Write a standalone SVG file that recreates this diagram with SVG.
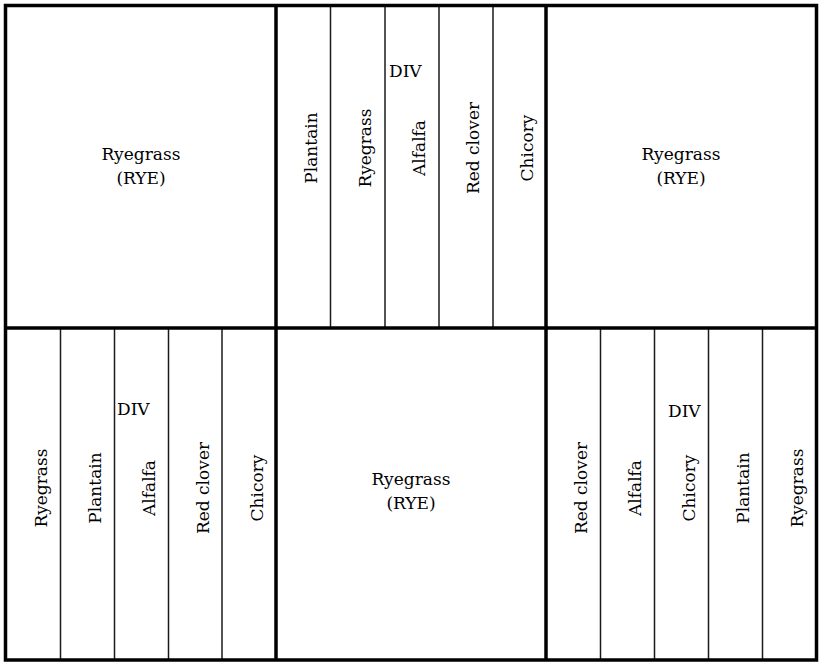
<svg xmlns="http://www.w3.org/2000/svg" width="829" height="670" viewBox="0 0 829 670">
<style>
.thick{stroke:#000;stroke-width:3.5;fill:none}
.thin{stroke:#1a1a1a;stroke-width:1.5;fill:none}
.m{text-anchor:middle}
</style>
<rect width="829" height="670" fill="#fff"/>
<g id="connectors">
<g id="thin-lines">
<line class="thin" x1="330.5" y1="6" x2="330.5" y2="328"/>
<line class="thin" x1="385" y1="6" x2="385" y2="328"/>
<line class="thin" x1="439" y1="6" x2="439" y2="328"/>
<line class="thin" x1="493" y1="6" x2="493" y2="328"/>
<line class="thin" x1="60.5" y1="328" x2="60.5" y2="660"/>
<line class="thin" x1="114.5" y1="328" x2="114.5" y2="660"/>
<line class="thin" x1="168.5" y1="328" x2="168.5" y2="660"/>
<line class="thin" x1="222" y1="328" x2="222" y2="660"/>
<line class="thin" x1="600.5" y1="328" x2="600.5" y2="660"/>
<line class="thin" x1="654.5" y1="328" x2="654.5" y2="660"/>
<line class="thin" x1="708.5" y1="328" x2="708.5" y2="660"/>
<line class="thin" x1="762.5" y1="328" x2="762.5" y2="660"/>
</g>
<g id="thick-lines">
<rect class="thick" x="5.5" y="5.5" width="811" height="654.5"/>
<line class="thick" x1="276" y1="5.5" x2="276" y2="660"/>
<line class="thick" x1="546" y1="5.5" x2="546" y2="660"/>
<line class="thick" x1="5.5" y1="328" x2="816.5" y2="328"/>
</g>
</g>
<g font-family="DejaVu Serif, Liberation Serif, serif" font-size="17" fill="#000">
<g id="top-left">
<text class="m" x="141" y="160">Ryegrass</text>
<text class="m" x="141" y="184">(RYE)</text>
</g>
<g id="top-right">
<text class="m" x="681" y="160">Ryegrass</text>
<text class="m" x="681" y="184">(RYE)</text>
</g>
<g id="bottom-middle">
<text class="m" x="411" y="485">Ryegrass</text>
<text class="m" x="411" y="509">(RYE)</text>
</g>
<g id="top-middle">
<text x="389" y="77">DIV</text>
<text class="m" transform="translate(317,148) rotate(-90)">Plantain</text>
<text class="m" transform="translate(371,148) rotate(-90)">Ryegrass</text>
<text class="m" transform="translate(425,148) rotate(-90)">Alfalfa</text>
<text class="m" transform="translate(479,148) rotate(-90)">Red clover</text>
<text class="m" transform="translate(533,148) rotate(-90)">Chicory</text>
</g>
<g id="bottom-left">
<text x="117" y="415">DIV</text>
<text class="m" transform="translate(47,488) rotate(-90)">Ryegrass</text>
<text class="m" transform="translate(101,488) rotate(-90)">Plantain</text>
<text class="m" transform="translate(155,488) rotate(-90)">Alfalfa</text>
<text class="m" transform="translate(209,488) rotate(-90)">Red clover</text>
<text class="m" transform="translate(263,488) rotate(-90)">Chicory</text>
</g>
<g id="bottom-right">
<text x="668" y="417">DIV</text>
<text class="m" transform="translate(587,488) rotate(-90)">Red clover</text>
<text class="m" transform="translate(641,488) rotate(-90)">Alfalfa</text>
<text class="m" transform="translate(695,488) rotate(-90)">Chicory</text>
<text class="m" transform="translate(749,488) rotate(-90)">Plantain</text>
<text class="m" transform="translate(803,488) rotate(-90)">Ryegrass</text>
</g>
</g>
</svg>
